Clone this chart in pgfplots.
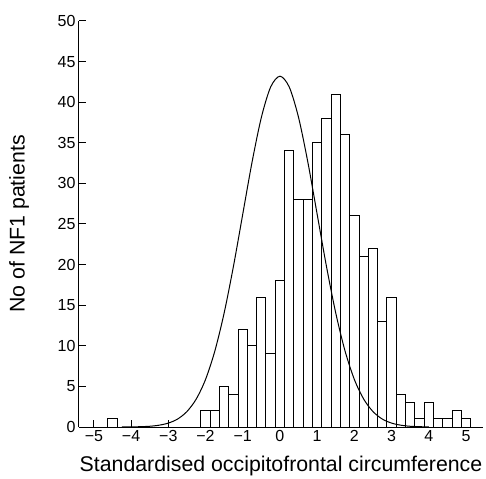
\documentclass[border=0pt]{standalone}
\usepackage{fontspec}
\setmainfont{Liberation Sans}
\usepackage{pgfplots}
\pgfplotsset{compat=1.18}
\begin{document}
\begin{tikzpicture}
\begin{axis}[
    scale only axis,
    width=404pt, height=406pt,
    xmin=-5.4, xmax=5.457,
    ymin=0, ymax=50,
    axis x line*=bottom,
    axis y line*=left,
    axis line style={-, line width=1pt},
    xtick={-5,-4,...,5},
    xticklabels={−5,−4,−3,−2,−1,0,1,2,3,4,5},
    ytick={0,5,...,50},
    tick align=inside,
    major tick length=7pt,
    tick style={black, line width=1pt},
    /pgf/number format/assume math mode=true,
    ticklabel style={font=\fontsize{16}{19}\selectfont},
    label style={font=\fontsize{21.3}{25}\selectfont},
    xlabel={Standardised occipitofrontal circumference},
    ylabel={No of NF1 patients},
    xlabel style={at={(axis description cs:0.5,0)}, anchor=base, yshift=-44pt},
    ylabel style={at={(axis description cs:0,0.5)}, anchor=center, yshift=60pt},
    clip=false,
]

% histogram, bins centred on multiples of 0.25
\addplot[ybar, bar width=0.25, draw=black, fill=white, line width=1pt] coordinates {
    (-4.50,1)
    (-2.00,2) (-1.75,2) (-1.50,5) (-1.25,4)
    (-1.00,12) (-0.75,10) (-0.50,16) (-0.25,9)
    (0.00,18) (0.25,34) (0.50,28) (0.75,28)
    (1.00,35) (1.25,38) (1.50,41) (1.75,36)
    (2.00,26) (2.25,21) (2.50,22) (2.75,13)
    (3.00,16) (3.25,4) (3.50,3) (3.75,1)
    (4.00,3) (4.25,1) (4.50,1) (4.75,2)
    (5.00,1)
};

% reference normal curve
\addplot[black, line width=1pt, smooth] coordinates {
    (-4.25,0.005) (-4.00,0.01) (-3.75,0.04) (-3.50,0.09) (-3.25,0.22)
    (-3.00,0.48) (-2.75,0.98) (-2.50,1.90) (-2.25,3.44)
    (-2.00,5.85) (-1.75,9.35) (-1.50,14.03) (-1.25,19.78)
    (-1.00,26.20) (-0.75,32.61) (-0.50,38.12) (-0.25,41.87)
    (0.00,43.20)
    (0.25,41.87) (0.50,38.12) (0.75,32.61) (1.00,26.20)
    (1.25,19.78) (1.50,14.03) (1.75,9.35) (2.00,5.85)
    (2.25,3.44) (2.50,1.90) (2.75,0.98) (3.00,0.48)
    (3.25,0.22) (3.50,0.09) (3.75,0.04) (4.00,0.01)
};

% page frame matching the reference margins
\path (rel axis cs:0,0) ++(-79pt,-51pt) coordinate (pagebl);
\path (rel axis cs:0,0) ++(407pt,427pt) coordinate (pagetr);
\end{axis}
\pgfresetboundingbox
\path[use as bounding box] (pagebl) rectangle (pagetr);
\end{tikzpicture}
\end{document}
